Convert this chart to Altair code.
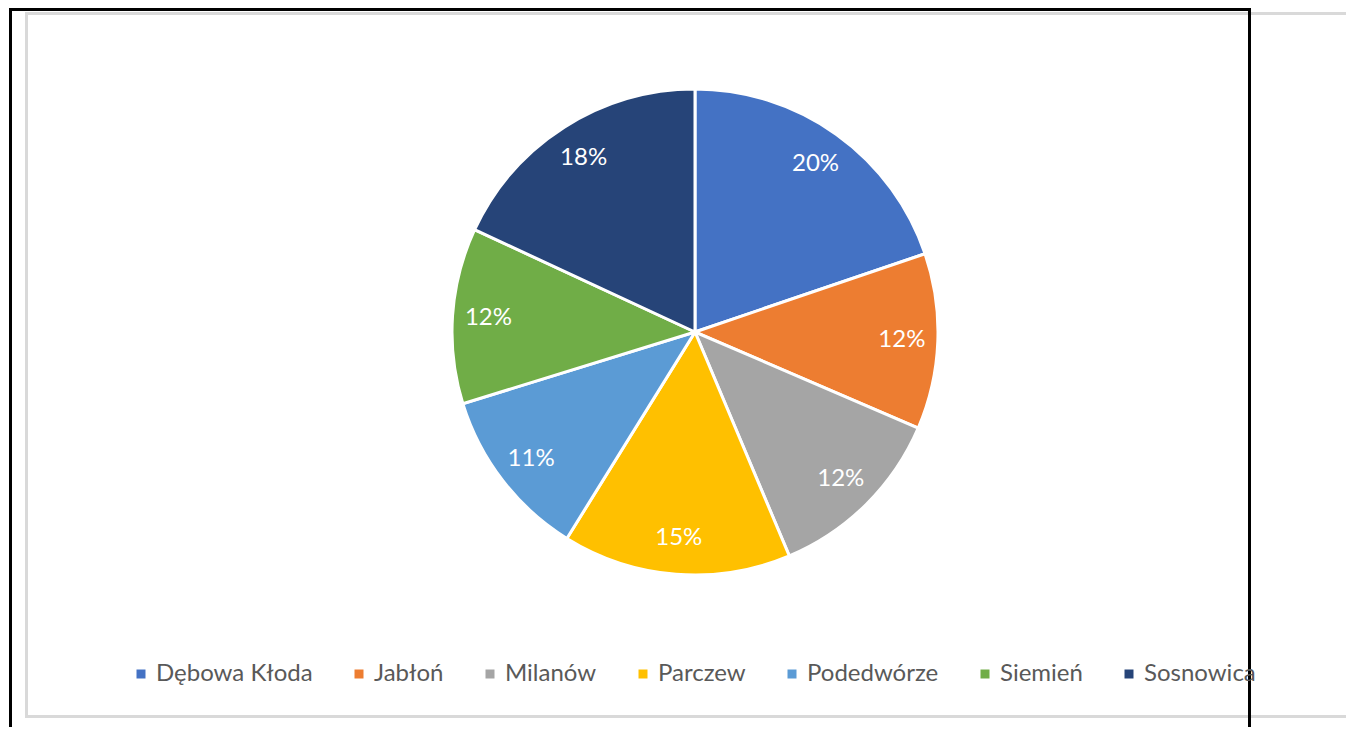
import altair as alt
import pandas as pd

categories = ["Dębowa Kłoda", "Jabłoń", "Milanów", "Parczew", "Podedwórze", "Siemień", "Sosnowica"]
shares = [19.8, 11.7, 12.2, 15.2, 11.4, 11.7, 18.1]
colors = ["#4472C4", "#ED7D31", "#A5A5A5", "#FFC000", "#5B9BD5", "#70AD47", "#264478"]

df = pd.DataFrame({"kategoria": categories, "udzial": shares, "idx": list(range(len(categories)))})

W, H = 1338, 719
CX, CY, R = 687, 324, 243
FONT = "Lato"

base = alt.Chart(df).encode(
    theta=alt.Theta("udzial:Q", stack=True),
    order=alt.Order("idx:Q", sort="ascending"),
)

color_enc = alt.Color(
    "kategoria:N",
    scale=alt.Scale(domain=categories, range=colors),
    sort=categories,
    legend=alt.Legend(
        title=None,
        orient="none",
        legendX=121,
        legendY=654,
        direction="horizontal",
        columns=7,
        symbolType="square",
        symbolSize=81,
        symbolStrokeWidth=0,
        symbolOpacity=1,
        labelFont=FONT,
        labelFontSize=24,
        labelColor="#595959",
        labelOffset=3,
        columnPadding=34,
        labelLimit=400,
    ),
)

pie = base.mark_arc(outerRadius=R, stroke="white", strokeWidth=3).encode(
    color=color_enc,
    x=alt.value(CX),
    y=alt.value(CY),
)

labels = base.transform_calculate(
    etykieta="format(datum.udzial, '.0f') + '%'"
).mark_text(radius=207, font=FONT, fontSize=24, color="white").encode(
    text="etykieta:N",
    x=alt.value(CX),
    y=alt.value(CY),
)

frame_df = pd.DataFrame({"k": [0]})
gray_frame = alt.Chart(frame_df).mark_rect(
    fill=None, stroke="#D9D9D9", strokeWidth=3
).encode(
    x=alt.value(18.5), x2=alt.value(1360), y=alt.value(5.5), y2=alt.value(708.5)
)
black_frame = alt.Chart(frame_df).mark_rect(
    fill=None, stroke="black", strokeWidth=3
).encode(
    x=alt.value(2.5), x2=alt.value(1241.5), y=alt.value(1.5), y2=alt.value(740)
)

chart = alt.layer(gray_frame, pie, labels, black_frame).properties(
    width=W,
    height=H,
    autosize=alt.AutoSizeParams(type="none"),
    padding=0,
    background="white",
).configure_view(stroke=None)

chart.save("out.html", embed_options={"renderer": "svg", "actions": False})
